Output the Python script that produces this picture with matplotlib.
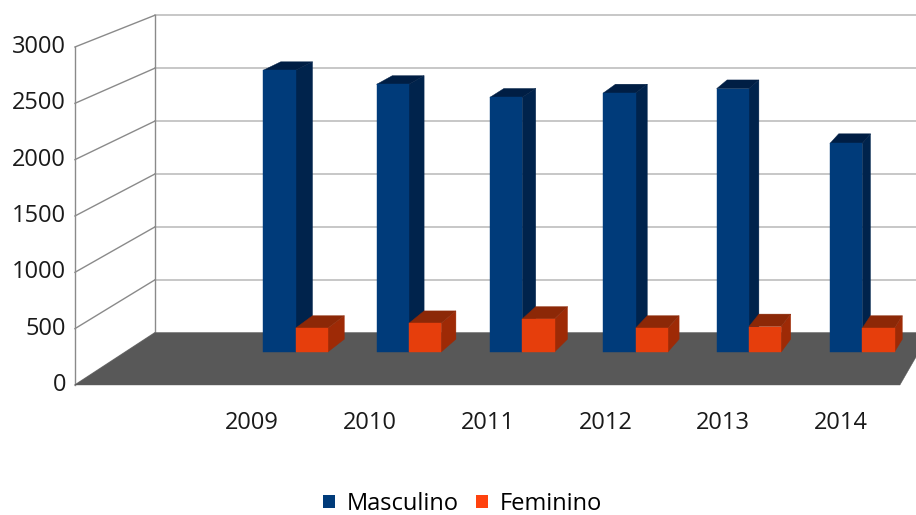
import numpy as np
import matplotlib
matplotlib.use('Agg')
import matplotlib.pyplot as plt
from matplotlib.patches import Polygon, Patch

plt.rcParams['font.family'] = ['Open Sans', 'DejaVu Sans']

anos = ['2009', '2010', '2011', '2012', '2013', '2014']
masculino = [2600, 2470, 2350, 2390, 2430, 1925]
feminino = [220, 265, 305, 220, 235, 220]
y_ticks = [0, 500, 1000, 1500, 2000, 2500, 3000]

# cores das faces (frente, lado, topo)
azul = ('#003b7a', '#00234c', '#001e44')
vermelho = ('#e63e0c', '#9e2a06', '#8c2807')
cor_chao = '#585858'

# perspectiva: ponto de fuga e encolhimento por profundidade
vp_x, vp_y = 10.2, 7650.0
k = 1 / 16.5
x_min, x_max = -1, 6
z_bar0, z_bar1 = 0.632, 0.877
largura = 0.285
fs = 17


def proj(x, v, z):
    s = 1 - k * z
    return (vp_x + (x - vp_x) * s, vp_y + (v - vp_y) * s)


def face(pts, cor, ax, zorder=3):
    ax.add_patch(Polygon([proj(*p) for p in pts], closed=True,
                         facecolor=cor, edgecolor=cor, lw=0.3, zorder=zorder))


def barra(ax, x0, x1, v, cores):
    fr, lado, topo = cores
    face([(x1, 0, z_bar0), (x1, v, z_bar0), (x1, v, z_bar1), (x1, 0, z_bar1)], lado, ax)
    face([(x0, v, z_bar0), (x1, v, z_bar0), (x1, v, z_bar1), (x0, v, z_bar1)], topo, ax)
    face([(x0, 0, z_bar0), (x1, 0, z_bar0), (x1, v, z_bar0), (x0, v, z_bar0)], fr, ax)


fig = plt.figure(figsize=(9.16, 5.15), dpi=100)
ax = fig.add_axes([0, 0, 1, 1])
ax.set_xlim(-1.636, 6.136)
ax.set_ylim(-1154, 3417)
ax.axis('off')

# parede do fundo
for v in y_ticks:
    xs, ys = zip(proj(x_min, v, 1), proj(x_max, v, 1))
    ax.plot(xs, ys, color='#bdbdbd', lw=1.2, zorder=1)
# parede lateral
for v in y_ticks:
    xs, ys = zip(proj(x_min, v, 0), proj(x_min, v, 1))
    ax.plot(xs, ys, color='#8a8a8a', lw=1.0, zorder=1)
for z in (0, 1):
    xs, ys = zip(proj(x_min, 0, z), proj(x_min, y_ticks[-1], z))
    ax.plot(xs, ys, color='#8a8a8a', lw=1.0, zorder=1)

# chao
face([(x_min, 0, 0), (x_max, 0, 0), (x_max, 0, 1), (x_min, 0, 1)], cor_chao, ax, zorder=2)

for i, (m, f) in enumerate(zip(masculino, feminino)):
    c = i + 0.5
    barra(ax, c - largura, c, m, azul)
    barra(ax, c, c + largura, f, vermelho)

for v in y_ticks:
    ax.annotate(str(v), proj(x_min, v, 0), xytext=(-6.5, 0), textcoords='offset points',
                ha='right', va='center', fontsize=fs, color='#1a1a1a')
for i, a in enumerate(anos):
    ax.annotate(a, proj(i + 0.5, 0, 0), xytext=(0, -27.5), textcoords='offset points',
                ha='center', va='center', fontsize=fs, color='#1a1a1a')

handles = [Patch(facecolor=azul[0], label='Masculino'),
           Patch(facecolor='#ff420e', label='Feminino')]
ax.legend(handles=handles, loc='center', bbox_to_anchor=(0.505, 0.022), ncol=2,
          frameon=False, fontsize=fs, handlelength=0.5, handleheight=0.5,
          handletextpad=0.5, columnspacing=0.75)

fig.savefig('out.png', dpi=100)
